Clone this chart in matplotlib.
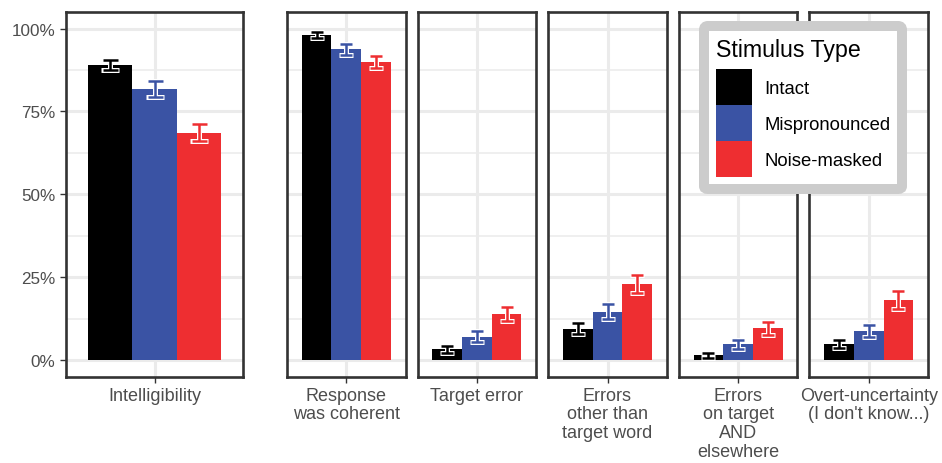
import matplotlib
matplotlib.use("Agg")
import matplotlib.pyplot as plt
from matplotlib.ticker import FixedLocator, PercentFormatter

plt.rcParams['font.family'] = ['Liberation Sans', 'DejaVu Sans']

# Outcome measures (one facet each)
measures = [
    "Intelligibility",
    "Response\nwas coherent",
    "Target error",
    "Errors\nother than\ntarget word",
    "Errors\non target\nAND\nelsewhere",
    "Overt-uncertainty\n(I don't know...)",
]
stimulus_types = ["Intact", "Mispronounced", "Noise-masked"]
colors = ["#000000", "#3A53A4", "#EE2E31"]

# Mean percentages per measure
intact = [89.0, 98.1, 3.2, 9.4, 1.4, 4.9]
mispronounced = [81.7, 93.7, 7.0, 14.6, 4.7, 8.7]
noise_masked = [68.6, 90.0, 13.9, 22.9, 9.5, 18.2]
# Standard errors
intact_se = [1.5, 1.0, 1.0, 1.7, 0.8, 1.2]
mispronounced_se = [2.4, 1.6, 1.7, 2.2, 1.4, 1.9]
noise_masked_se = [2.6, 1.8, 2.1, 2.6, 2.0, 2.7]

series = [intact, mispronounced, noise_masked]
errors = [intact_se, mispronounced_se, noise_masked_se]

W, H = 942, 464
fig = plt.figure(figsize=(W / 100, H / 100), dpi=100)

# panel layout in pixels: (left, width)
panels = [(66, 177.3), (287, 118.6), (417.6, 118.6), (548.2, 118.6),
          (678.8, 118.6), (809.4, 118.6)]
bottom_px, top_px = 377.5, 13.0

offsets = [-0.3, 0.0, 0.3]
bar_w = 0.3
border = "#333333"
text_col = "#4D4D4D"
grid_col = "#EBEBEB"

handles = []
for i, (left, width) in enumerate(panels):
    ax = fig.add_axes([left / W, 1 - bottom_px / H, width / W,
                       (bottom_px - top_px) / H])
    cap = 5.4 if i == 0 else 4.0
    for j in range(3):
        b = ax.bar(offsets[j], series[j][i], width=bar_w, color=colors[j],
                   label=stimulus_types[j], zorder=2, linewidth=0)
        if i == 0:
            handles.append(b)
        ax.errorbar(offsets[j], series[j][i], yerr=errors[j][i], fmt='none',
                    ecolor='white', elinewidth=3.6, capsize=cap + 1.0,
                    capthick=3.6, zorder=3)
        ax.errorbar(offsets[j], series[j][i], yerr=errors[j][i], fmt='none',
                    ecolor=colors[j], elinewidth=1.8, capsize=cap,
                    capthick=1.8, zorder=4)

    ax.set_xlim(-0.6, 0.6)
    ax.set_ylim(-5, 105)
    ax.yaxis.set_major_locator(FixedLocator([0, 25, 50, 75, 100]))
    ax.yaxis.set_minor_locator(FixedLocator([12.5, 37.5, 62.5, 87.5]))
    ax.yaxis.set_major_formatter(PercentFormatter(decimals=0))
    ax.set_xticks([0])
    ax.set_xticklabels([measures[i]], linespacing=1.12)

    ax.set_axisbelow(True)
    ax.grid(which='major', color=grid_col, linewidth=2.2)
    ax.grid(which='minor', axis='y', color=grid_col, linewidth=1.1)

    for sp in ax.spines.values():
        sp.set_color(border)
        sp.set_linewidth(1.9)

    ax.tick_params(which='major', length=4.5, width=1.0, color=border,
                   labelcolor=text_col, pad=3)
    ax.tick_params(axis='x', labelsize=13)
    ax.tick_params(axis='y', labelsize=12.3)
    ax.tick_params(which='minor', length=0)
    if i > 0:
        ax.tick_params(axis='y', left=False, labelleft=False)

leg = fig.legend(handles, stimulus_types, title="Stimulus Type",
                 loc='upper left', bbox_to_anchor=(704 / W, 1 - 27 / H),
                 fontsize=13.3, title_fontsize=16.7,
                 handlelength=1.95, handleheight=2.62, labelspacing=0,
                 handletextpad=0.65, borderpad=0.65, borderaxespad=0,
                 alignment='left', frameon=True, framealpha=1,
                 edgecolor='#CCCCCC', facecolor='white', fancybox=True)
leg.get_frame().set_linewidth(7.2)
leg._legend_box.sep = 6

fig.savefig("out.png", dpi=100)
